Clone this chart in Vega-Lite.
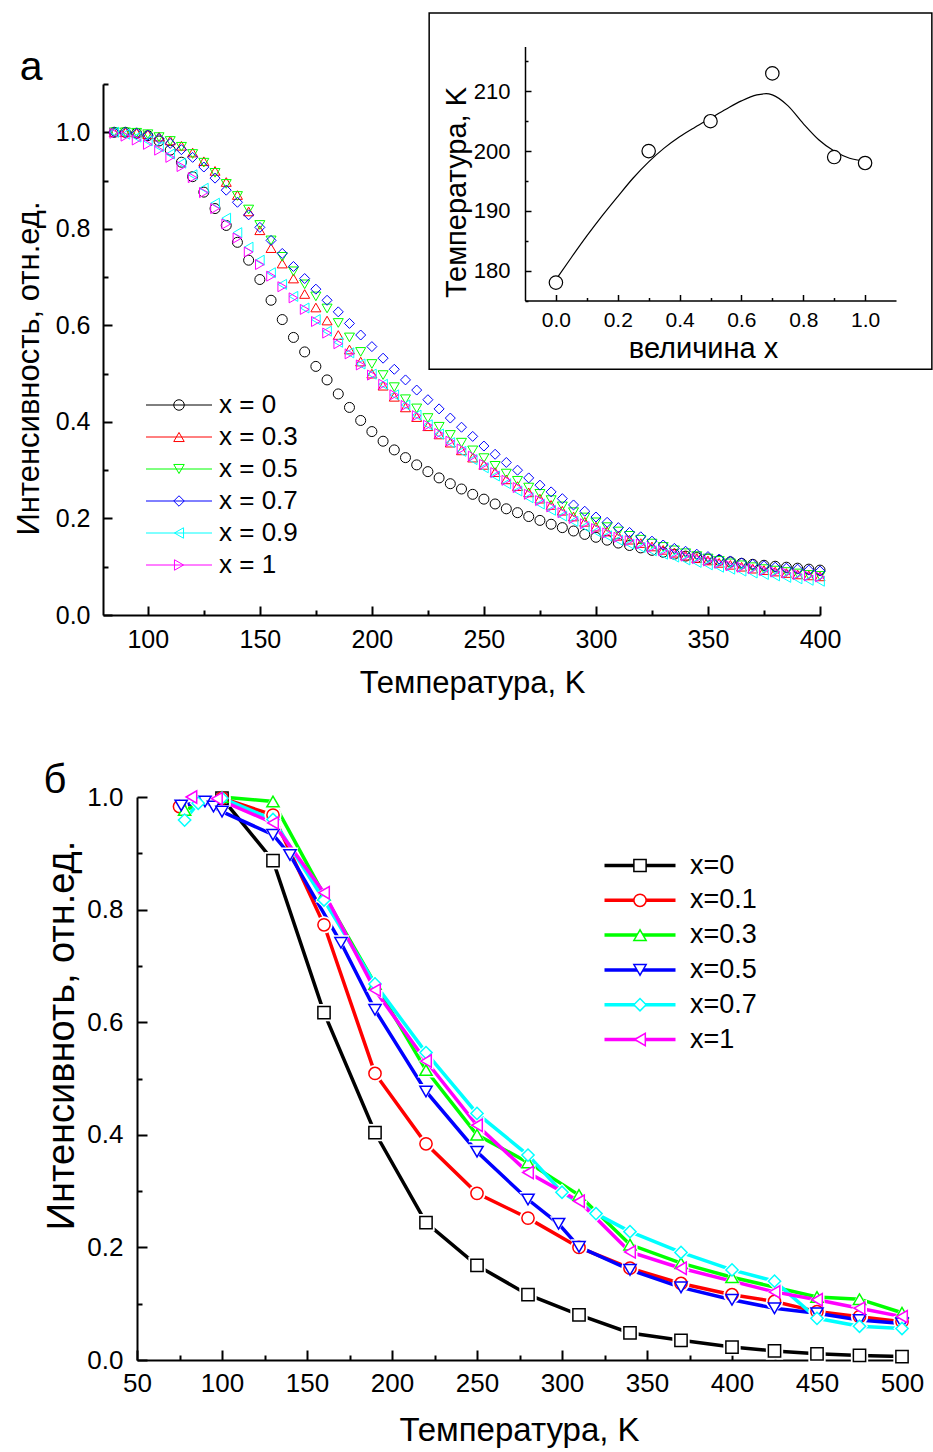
{
"$schema": "https://vega.github.io/schema/vega-lite/v6.json",
"width": 933, "height": 1452, "padding": 0, "autosize": {"type": "none"},
"background": "white",
"config": {
  "view": {"stroke": null},
  "font": "Liberation Sans",
  "axis": {"domainColor": "#000", "tickColor": "#000", "labelColor": "#000", "titleColor": "#000", "labelFont": "Liberation Sans", "titleFont": "Liberation Sans", "titleFontWeight": "normal", "grid": false, "labelFlush": false, "labelOverlap": false, "domainWidth": 2, "tickWidth": 2},
  "legend": {"labelFont": "Liberation Sans", "labelColor": "#000", "padding": 0, "symbolOffset": 0}
},
"datasets": {
"a": [
{"T":85,"x0":1.000,"x03":1.000,"x05":1.000,"x07":1.000,"x09":1.000,"x1":0.998},
{"T":90,"x0":1.000,"x03":1.000,"x05":1.000,"x07":1.000,"x09":0.996,"x1":0.992},
{"T":95,"x0":0.998,"x03":0.999,"x05":0.999,"x07":0.998,"x09":0.990,"x1":0.984},
{"T":100,"x0":0.993,"x03":0.996,"x05":0.996,"x07":0.994,"x09":0.982,"x1":0.975},
{"T":105,"x0":0.982,"x03":0.991,"x05":0.990,"x07":0.987,"x09":0.970,"x1":0.963},
{"T":110,"x0":0.963,"x03":0.983,"x05":0.982,"x07":0.977,"x09":0.955,"x1":0.948},
{"T":115,"x0":0.938,"x03":0.972,"x05":0.970,"x07":0.964,"x09":0.936,"x1":0.929},
{"T":120,"x0":0.908,"x03":0.958,"x05":0.955,"x07":0.948,"x09":0.912,"x1":0.906},
{"T":125,"x0":0.876,"x03":0.940,"x05":0.937,"x07":0.928,"x09":0.884,"x1":0.875},
{"T":130,"x0":0.842,"x03":0.920,"x05":0.916,"x07":0.905,"x09":0.853,"x1":0.842},
{"T":135,"x0":0.807,"x03":0.897,"x05":0.893,"x07":0.880,"x09":0.822,"x1":0.810},
{"T":140,"x0":0.772,"x03":0.870,"x05":0.868,"x07":0.855,"x09":0.792,"x1":0.781},
{"T":145,"x0":0.735,"x03":0.836,"x05":0.840,"x07":0.829,"x09":0.762,"x1":0.752},
{"T":150,"x0":0.695,"x03":0.797,"x05":0.808,"x07":0.803,"x09":0.735,"x1":0.726},
{"T":155,"x0":0.652,"x03":0.760,"x05":0.776,"x07":0.776,"x09":0.709,"x1":0.702},
{"T":160,"x0":0.612,"x03":0.728,"x05":0.742,"x07":0.749,"x09":0.685,"x1":0.680},
{"T":165,"x0":0.575,"x03":0.697,"x05":0.712,"x07":0.722,"x09":0.660,"x1":0.657},
{"T":170,"x0":0.545,"x03":0.665,"x05":0.685,"x07":0.697,"x09":0.636,"x1":0.633},
{"T":175,"x0":0.515,"x03":0.637,"x05":0.660,"x07":0.675,"x09":0.612,"x1":0.608},
{"T":180,"x0":0.487,"x03":0.610,"x05":0.635,"x07":0.652,"x09":0.588,"x1":0.584},
{"T":185,"x0":0.458,"x03":0.580,"x05":0.605,"x07":0.628,"x09":0.565,"x1":0.562},
{"T":190,"x0":0.430,"x03":0.550,"x05":0.575,"x07":0.604,"x09":0.543,"x1":0.541},
{"T":195,"x0":0.403,"x03":0.525,"x05":0.545,"x07":0.580,"x09":0.520,"x1":0.518},
{"T":200,"x0":0.380,"x03":0.500,"x05":0.520,"x07":0.556,"x09":0.499,"x1":0.497},
{"T":205,"x0":0.360,"x03":0.475,"x05":0.497,"x07":0.532,"x09":0.478,"x1":0.478},
{"T":210,"x0":0.342,"x03":0.452,"x05":0.472,"x07":0.509,"x09":0.456,"x1":0.456},
{"T":215,"x0":0.326,"x03":0.430,"x05":0.447,"x07":0.487,"x09":0.435,"x1":0.434},
{"T":220,"x0":0.311,"x03":0.410,"x05":0.428,"x07":0.466,"x09":0.414,"x1":0.413},
{"T":225,"x0":0.297,"x03":0.391,"x05":0.408,"x07":0.446,"x09":0.394,"x1":0.393},
{"T":230,"x0":0.284,"x03":0.374,"x05":0.390,"x07":0.427,"x09":0.375,"x1":0.376},
{"T":235,"x0":0.272,"x03":0.357,"x05":0.373,"x07":0.408,"x09":0.357,"x1":0.360},
{"T":240,"x0":0.261,"x03":0.341,"x05":0.357,"x07":0.389,"x09":0.339,"x1":0.344},
{"T":245,"x0":0.250,"x03":0.326,"x05":0.341,"x07":0.370,"x09":0.322,"x1":0.329},
{"T":250,"x0":0.240,"x03":0.311,"x05":0.325,"x07":0.350,"x09":0.305,"x1":0.312},
{"T":255,"x0":0.230,"x03":0.296,"x05":0.309,"x07":0.333,"x09":0.288,"x1":0.295},
{"T":260,"x0":0.220,"x03":0.281,"x05":0.293,"x07":0.316,"x09":0.272,"x1":0.279},
{"T":265,"x0":0.212,"x03":0.267,"x05":0.278,"x07":0.300,"x09":0.257,"x1":0.264},
{"T":270,"x0":0.204,"x03":0.254,"x05":0.264,"x07":0.284,"x09":0.243,"x1":0.250},
{"T":275,"x0":0.196,"x03":0.241,"x05":0.251,"x07":0.269,"x09":0.230,"x1":0.237},
{"T":280,"x0":0.188,"x03":0.228,"x05":0.238,"x07":0.255,"x09":0.217,"x1":0.224},
{"T":285,"x0":0.181,"x03":0.216,"x05":0.225,"x07":0.241,"x09":0.205,"x1":0.212},
{"T":290,"x0":0.174,"x03":0.204,"x05":0.213,"x07":0.228,"x09":0.194,"x1":0.200},
{"T":295,"x0":0.167,"x03":0.193,"x05":0.202,"x07":0.215,"x09":0.183,"x1":0.189},
{"T":300,"x0":0.161,"x03":0.183,"x05":0.192,"x07":0.203,"x09":0.173,"x1":0.179},
{"T":305,"x0":0.155,"x03":0.173,"x05":0.182,"x07":0.192,"x09":0.164,"x1":0.170},
{"T":310,"x0":0.149,"x03":0.164,"x05":0.173,"x07":0.181,"x09":0.155,"x1":0.161},
{"T":315,"x0":0.144,"x03":0.156,"x05":0.164,"x07":0.171,"x09":0.147,"x1":0.154},
{"T":320,"x0":0.139,"x03":0.149,"x05":0.156,"x07":0.162,"x09":0.140,"x1":0.147},
{"T":325,"x0":0.134,"x03":0.142,"x05":0.148,"x07":0.153,"x09":0.133,"x1":0.140},
{"T":330,"x0":0.130,"x03":0.135,"x05":0.141,"x07":0.145,"x09":0.126,"x1":0.133},
{"T":335,"x0":0.126,"x03":0.129,"x05":0.134,"x07":0.138,"x09":0.120,"x1":0.127},
{"T":340,"x0":0.122,"x03":0.123,"x05":0.128,"x07":0.132,"x09":0.114,"x1":0.122},
{"T":345,"x0":0.119,"x03":0.118,"x05":0.122,"x07":0.126,"x09":0.109,"x1":0.117},
{"T":350,"x0":0.116,"x03":0.113,"x05":0.117,"x07":0.121,"x09":0.104,"x1":0.112},
{"T":355,"x0":0.113,"x03":0.108,"x05":0.112,"x07":0.116,"x09":0.099,"x1":0.107},
{"T":360,"x0":0.110,"x03":0.104,"x05":0.107,"x07":0.112,"x09":0.095,"x1":0.102},
{"T":365,"x0":0.107,"x03":0.100,"x05":0.103,"x07":0.108,"x09":0.091,"x1":0.099},
{"T":370,"x0":0.105,"x03":0.096,"x05":0.099,"x07":0.105,"x09":0.087,"x1":0.096},
{"T":375,"x0":0.103,"x03":0.093,"x05":0.095,"x07":0.102,"x09":0.084,"x1":0.092},
{"T":380,"x0":0.101,"x03":0.090,"x05":0.092,"x07":0.099,"x09":0.081,"x1":0.089},
{"T":385,"x0":0.099,"x03":0.087,"x05":0.089,"x07":0.097,"x09":0.078,"x1":0.087},
{"T":390,"x0":0.097,"x03":0.084,"x05":0.086,"x07":0.095,"x09":0.075,"x1":0.084},
{"T":395,"x0":0.095,"x03":0.082,"x05":0.083,"x07":0.093,"x09":0.072,"x1":0.081},
{"T":400,"x0":0.093,"x03":0.080,"x05":0.081,"x07":0.091,"x09":0.070,"x1":0.079}
],
"b": [
{"s":"x=0","T":100,"v":0.998},{"s":"x=0","T":130,"v":0.887},{"s":"x=0","T":160,"v":0.617},{"s":"x=0","T":190,"v":0.404},{"s":"x=0","T":220,"v":0.244},{"s":"x=0","T":250,"v":0.168},{"s":"x=0","T":280,"v":0.116},{"s":"x=0","T":310,"v":0.080},{"s":"x=0","T":340,"v":0.048},{"s":"x=0","T":370,"v":0.035},{"s":"x=0","T":400,"v":0.023},{"s":"x=0","T":425,"v":0.016},{"s":"x=0","T":450,"v":0.011},{"s":"x=0","T":475,"v":0.008},{"s":"x=0","T":500,"v":0.006},
{"s":"x=0.1","T":75,"v":0.983},{"s":"x=0.1","T":100,"v":0.998},{"s":"x=0.1","T":130,"v":0.968},{"s":"x=0.1","T":160,"v":0.773},{"s":"x=0.1","T":190,"v":0.509},{"s":"x=0.1","T":220,"v":0.384},{"s":"x=0.1","T":250,"v":0.296},{"s":"x=0.1","T":280,"v":0.252},{"s":"x=0.1","T":310,"v":0.200},{"s":"x=0.1","T":340,"v":0.163},{"s":"x=0.1","T":370,"v":0.136},{"s":"x=0.1","T":400,"v":0.116},{"s":"x=0.1","T":425,"v":0.104},{"s":"x=0.1","T":450,"v":0.086},{"s":"x=0.1","T":475,"v":0.077},{"s":"x=0.1","T":500,"v":0.068},
{"s":"x=0.3","T":78,"v":0.977},{"s":"x=0.3","T":100,"v":1.0},{"s":"x=0.3","T":130,"v":0.992},{"s":"x=0.3","T":160,"v":0.826},{"s":"x=0.3","T":190,"v":0.668},{"s":"x=0.3","T":220,"v":0.515},{"s":"x=0.3","T":250,"v":0.400},{"s":"x=0.3","T":280,"v":0.351},{"s":"x=0.3","T":310,"v":0.293},{"s":"x=0.3","T":340,"v":0.205},{"s":"x=0.3","T":370,"v":0.172},{"s":"x=0.3","T":400,"v":0.147},{"s":"x=0.3","T":450,"v":0.112},{"s":"x=0.3","T":475,"v":0.108},{"s":"x=0.3","T":500,"v":0.084},
{"s":"x=0.5","T":76,"v":0.985},{"s":"x=0.5","T":90,"v":0.992},{"s":"x=0.5","T":95,"v":0.983},{"s":"x=0.5","T":100,"v":0.974},{"s":"x=0.5","T":130,"v":0.933},{"s":"x=0.5","T":140,"v":0.897},{"s":"x=0.5","T":170,"v":0.741},{"s":"x=0.5","T":190,"v":0.622},{"s":"x=0.5","T":220,"v":0.477},{"s":"x=0.5","T":250,"v":0.370},{"s":"x=0.5","T":280,"v":0.285},{"s":"x=0.5","T":298,"v":0.242},{"s":"x=0.5","T":310,"v":0.201},{"s":"x=0.5","T":340,"v":0.160},{"s":"x=0.5","T":370,"v":0.129},{"s":"x=0.5","T":400,"v":0.107},{"s":"x=0.5","T":425,"v":0.092},{"s":"x=0.5","T":450,"v":0.083},{"s":"x=0.5","T":475,"v":0.071},{"s":"x=0.5","T":500,"v":0.065},
{"s":"x=0.7","T":78,"v":0.959},{"s":"x=0.7","T":86,"v":0.989},{"s":"x=0.7","T":100,"v":0.998},{"s":"x=0.7","T":130,"v":0.960},{"s":"x=0.7","T":160,"v":0.817},{"s":"x=0.7","T":190,"v":0.668},{"s":"x=0.7","T":220,"v":0.546},{"s":"x=0.7","T":250,"v":0.438},{"s":"x=0.7","T":280,"v":0.364},{"s":"x=0.7","T":300,"v":0.298},{"s":"x=0.7","T":320,"v":0.260},{"s":"x=0.7","T":340,"v":0.228},{"s":"x=0.7","T":370,"v":0.191},{"s":"x=0.7","T":400,"v":0.160},{"s":"x=0.7","T":425,"v":0.140},{"s":"x=0.7","T":450,"v":0.074},{"s":"x=0.7","T":475,"v":0.060},{"s":"x=0.7","T":500,"v":0.056},
{"s":"x=1","T":82,"v":1.0},{"s":"x=1","T":97,"v":0.997},{"s":"x=1","T":130,"v":0.954},{"s":"x=1","T":160,"v":0.830},{"s":"x=1","T":190,"v":0.657},{"s":"x=1","T":220,"v":0.531},{"s":"x=1","T":250,"v":0.417},{"s":"x=1","T":280,"v":0.333},{"s":"x=1","T":310,"v":0.282},{"s":"x=1","T":340,"v":0.192},{"s":"x=1","T":370,"v":0.163},{"s":"x=1","T":425,"v":0.121},{"s":"x=1","T":450,"v":0.107},{"s":"x=1","T":475,"v":0.092},{"s":"x=1","T":500,"v":0.077}
],
"ins": [{"x":0,"y":178},{"x":0.3,"y":200},{"x":0.5,"y":205},{"x":0.7,"y":213},{"x":0.9,"y":199},{"x":1.0,"y":198}],
"insc": [{"x":0,"y":178.5},{"x":0.05,"y":182.2},{"x":0.1,"y":185.8},{"x":0.15,"y":189.2},{"x":0.2,"y":192.4},{"x":0.25,"y":195.5},{"x":0.3,"y":198.2},{"x":0.35,"y":200.5},{"x":0.4,"y":202.4},{"x":0.45,"y":204.0},{"x":0.5,"y":205.5},{"x":0.55,"y":207.0},{"x":0.6,"y":208.4},{"x":0.65,"y":209.4},{"x":0.68,"y":209.6},{"x":0.7,"y":209.4},{"x":0.75,"y":207.6},{"x":0.8,"y":204.6},{"x":0.85,"y":201.9},{"x":0.9,"y":200.0},{"x":0.95,"y":198.8},{"x":1.0,"y":198.3}]
},
"layer": [
{
 "encoding": {
  "x": {"field": "T", "type": "quantitative", "scale": {"domain": [80, 400], "range": [103, 820], "nice": false, "zero": false},
        "axis": {"orient": "bottom", "offset": -837, "values": [100,150,200,250,300,350,400], "tickSize": -9, "labelPadding": 21, "labelFontSize": 25, "title": "Температура, K", "titleFontSize": 31, "titleX": 472, "titleY": 68, "titleAlign": "center", "titleBaseline": "middle"}},
  "y": {"field": "v", "type": "quantitative", "scale": {"domain": [0, 1.1], "range": [615, 84], "nice": false, "zero": false},
        "axis": {"orient": "left", "offset": -103, "values": [0,0.2,0.4,0.6,0.8,1.0], "format": ".1f", "tickSize": -9, "labelPadding": 22, "labelFontSize": 25, "title": "Интенсивность, отн.ед.", "titleFontSize": 31, "titleX": -74, "titleY": 368, "titleAlign": "center", "titleBaseline": "middle"}}
 },
 "layer": [
  {"data": {"values": []}, "mark": {"type": "line", "strokeWidth": 1},
   "encoding": {"color": {"field": "s", "type": "nominal",
     "scale": {"domain": ["x0","x03","x05","x07","x09","x1"], "range": ["#000000","#ff0000","#00ff00","#0000ff","#00ffff","#ff00ff"]},
     "legend": {"orient": "none", "legendX": 166, "legendY": 392, "title": null, "labelFontSize": 26, "labelOffset": 27, "rowPadding": 6, "symbolType": "M-6.6,0H6.6", "symbolSize": 100, "symbolStrokeWidth": 1,
       "labelExpr": "datum.label=='x0'?'x = 0':datum.label=='x03'?'x = 0.3':datum.label=='x05'?'x = 0.5':datum.label=='x07'?'x = 0.7':datum.label=='x09'?'x = 0.9':'x = 1'"}}}},
  {"data": {"name": "a"}, "transform": [{"fold": ["x0","x03","x05","x07","x09","x1"], "as": ["s","v"]}],
   "mark": {"type": "point", "filled": false, "strokeWidth": 1, "size": 100, "opacity": 1},
   "encoding": {
     "color": {"field": "s", "type": "nominal",
       "scale": {"domain": ["x0","x03","x05","x07","x09","x1"], "range": ["#000000","#ff0000","#00ff00","#0000ff","#00ffff","#ff00ff"]},
       "legend": {"orient": "none", "legendX": 166, "legendY": 392, "title": null, "labelFontSize": 26, "labelOffset": 27, "rowPadding": 6, "labelOpacity": 0, "symbolStrokeWidth": 1, "symbolFillColor": "white", "symbolSize": 110,
         "labelExpr": "datum.label=='x0'?'x = 0':datum.label=='x03'?'x = 0.3':datum.label=='x05'?'x = 0.5':datum.label=='x07'?'x = 0.7':datum.label=='x09'?'x = 0.9':'x = 1'",
         "encode": {"symbols": {"update": {"fill": {"value": "white"}}}}}},
     "shape": {"field": "s", "type": "nominal",
       "scale": {"domain": ["x0","x03","x05","x07","x09","x1"], "range": ["circle","triangle-up","triangle-down","diamond","triangle-left","triangle-right"]},
       "legend": {"orient": "none", "legendX": 166, "legendY": 392, "title": null, "labelFontSize": 26, "labelOffset": 27, "rowPadding": 6, "labelOpacity": 0, "symbolStrokeWidth": 1, "symbolFillColor": "white", "symbolSize": 110,
         "labelExpr": "datum.label=='x0'?'x = 0':datum.label=='x03'?'x = 0.3':datum.label=='x05'?'x = 0.5':datum.label=='x07'?'x = 0.7':datum.label=='x09'?'x = 0.9':'x = 1'",
         "encode": {"symbols": {"update": {"fill": {"value": "white"}}}}}}
   }},
  {"data": {"values": [{"T": 47.9, "v": 1.108, "t": "а"}]},
   "mark": {"type": "text", "fontSize": 41, "baseline": "alphabetic", "align": "center", "color": "#000", "font": "Liberation Sans"},
   "encoding": {"text": {"field": "t", "type": "nominal"}}}
 ],
 "resolve": {"scale": {"color": "independent", "shape": "independent"}}
},
{
 "data": {"values": []},
 "mark": {"type": "point"},
 "encoding": {
  "x": {"field": "T", "type": "quantitative", "scale": {"domain": [80, 400], "range": [103, 820], "nice": false, "zero": false},
        "axis": {"orient": "bottom", "offset": -837, "values": [125,175,225,275,325,375], "tickSize": -5, "labels": false, "domain": false, "title": null}},
  "y": {"field": "v", "type": "quantitative", "scale": {"domain": [0, 1.1], "range": [615, 84], "nice": false, "zero": false},
        "axis": {"orient": "left", "offset": -103, "values": [0.1,0.3,0.5,0.7,0.9,1.1], "tickSize": -5, "labels": false, "domain": false, "title": null}}
 }
},
{
 "encoding": {
  "x": {"field": "x", "type": "quantitative", "scale": {"domain": [-0.1, 1.1], "range": [525, 896], "nice": false, "zero": false},
        "axis": {"orient": "bottom", "offset": -1151.5, "values": [0,0.2,0.4,0.6,0.8,1.0], "format": ".1f", "tickSize": -6, "labelPadding": 15, "labelFontSize": 21, "domainWidth": 1.5, "tickWidth": 1.5, "title": "величина x", "titleFontSize": 29, "titleX": 703, "titleY": 47.5, "titleAlign": "center", "titleBaseline": "middle"}},
  "y": {"field": "y", "type": "quantitative", "scale": {"domain": [175, 217.5], "range": [300.5, 46.5], "nice": false, "zero": false},
        "axis": {"orient": "left", "offset": -525, "values": [180,190,200,210], "tickSize": -6, "labelPadding": 21, "labelFontSize": 22, "domainWidth": 1.5, "tickWidth": 1.5, "title": "Температура, K", "titleFontSize": 29, "titleX": -69, "titleY": 192, "titleAlign": "center", "titleBaseline": "middle"}}
 },
 "layer": [
  {"data": {"values": [{"x": -0.41, "y": 163.5, "x2": 1.216, "y2": 223.1}]},
   "mark": {"type": "rect", "fill": "white", "fillOpacity": 0, "stroke": "#000", "strokeWidth": 1.5},
   "encoding": {"x2": {"field": "x2"}, "y2": {"field": "y2"}}},
  {"data": {"name": "insc"}, "mark": {"type": "line", "color": "#000", "strokeWidth": 1.2, "interpolate": "monotone"}},
  {"data": {"name": "ins"}, "mark": {"type": "point", "shape": "circle", "filled": false, "fill": "white", "stroke": "#000", "strokeWidth": 1.2, "size": 180, "opacity": 1}}
 ]
},
{
 "data": {"values": []},
 "mark": {"type": "point"},
 "encoding": {
  "x": {"field": "x", "type": "quantitative", "scale": {"domain": [-0.1, 1.1], "range": [525, 896], "nice": false, "zero": false},
        "axis": {"orient": "bottom", "offset": -1151.5, "values": [0.1,0.3,0.5,0.7,0.9], "tickSize": -3, "tickWidth": 1.5, "labels": false, "domain": false, "title": null}},
  "y": {"field": "y", "type": "quantitative", "scale": {"domain": [175, 217.5], "range": [300.5, 46.5], "nice": false, "zero": false},
        "axis": {"orient": "left", "offset": -525, "values": [175,185,195,205,215], "tickSize": -3, "tickWidth": 1.5, "labels": false, "domain": false, "title": null}}
 }
},
{
 "encoding": {
  "x": {"field": "T", "type": "quantitative", "scale": {"domain": [50, 500], "range": [137, 902], "nice": false, "zero": false},
        "axis": {"orient": "bottom", "offset": -92, "values": [50,100,150,200,250,300,350,400,450,500], "tickSize": -10, "labelPadding": 20, "labelFontSize": 26, "title": "Температура, K", "titleFontSize": 33, "titleX": 519, "titleY": 70, "titleAlign": "center", "titleBaseline": "middle"}},
  "y": {"field": "v", "type": "quantitative", "scale": {"domain": [0, 1], "range": [1360, 797], "nice": false, "zero": false},
        "axis": {"orient": "left", "offset": -137, "values": [0,0.2,0.4,0.6,0.8,1.0], "format": ".1f", "tickSize": -10, "labelPadding": 24, "labelFontSize": 26, "title": "Интенсивноть, отн.ед.", "titleFontSize": 38, "titleX": -75, "titleY": 1035, "titleAlign": "center", "titleBaseline": "middle"}}
 },
 "layer": [
  {"data": {"name": "b"}, "mark": {"type": "line", "strokeWidth": 3.5},
   "encoding": {"color": {"field": "s", "type": "nominal",
     "scale": {"domain": ["x=0","x=0.1","x=0.3","x=0.5","x=0.7","x=1"], "range": ["#000000","#ff0000","#00ff00","#0000ff","#00ffff","#ff00ff"]},
     "legend": {"orient": "none", "legendX": 626.5, "legendY": 852, "title": null, "labelFontSize": 27, "labelOffset": 36.5, "rowPadding": 6.8, "symbolType": "M-7.1,0H7.1", "symbolSize": 100, "symbolStrokeWidth": 3.5}}}},
  {"data": {"name": "b"}, "mark": {"type": "point", "filled": true, "color": "white", "size": 300, "opacity": 1},
   "encoding": {"shape": {"field": "s", "type": "nominal",
     "scale": {"domain": ["x=0","x=0.1","x=0.3","x=0.5","x=0.7","x=1"], "range": ["square","circle","triangle-up","triangle-down","diamond","triangle-left"]}, "legend": null}}},
  {"data": {"name": "b"}, "mark": {"type": "point", "filled": false, "fill": "white", "strokeWidth": 1.5, "size": 150, "opacity": 1},
   "encoding": {
     "color": {"field": "s", "type": "nominal",
       "scale": {"domain": ["x=0","x=0.1","x=0.3","x=0.5","x=0.7","x=1"], "range": ["#000000","#ff0000","#00ff00","#0000ff","#00ffff","#ff00ff"]},
       "legend": {"orient": "none", "legendX": 626.5, "legendY": 852, "title": null, "labelFontSize": 27, "labelOffset": 36.5, "rowPadding": 6.8, "labelOpacity": 0, "symbolStrokeWidth": 1.5, "symbolFillColor": "white", "symbolSize": 150,
         "encode": {"symbols": {"update": {"fill": {"value": "white"}}}}}},
     "shape": {"field": "s", "type": "nominal",
       "scale": {"domain": ["x=0","x=0.1","x=0.3","x=0.5","x=0.7","x=1"], "range": ["square","circle","triangle-up","triangle-down","diamond","triangle-left"]},
       "legend": {"orient": "none", "legendX": 626.5, "legendY": 852, "title": null, "labelFontSize": 27, "labelOffset": 36.5, "rowPadding": 6.8, "labelOpacity": 0, "symbolStrokeWidth": 1.5, "symbolFillColor": "white", "symbolSize": 150,
         "encode": {"symbols": {"update": {"fill": {"value": "white"}}}}}}
   }},
  {"data": {"values": [{"T": 1.76, "v": 1.007, "t": "б"}]},
   "mark": {"type": "text", "fontSize": 40, "baseline": "alphabetic", "align": "center", "color": "#000", "font": "Liberation Sans"},
   "encoding": {"text": {"field": "t", "type": "nominal"}}}
 ],
 "resolve": {"scale": {"color": "independent", "shape": "independent"}}
},
{
 "data": {"values": []},
 "mark": {"type": "point"},
 "encoding": {
  "x": {"field": "T", "type": "quantitative", "scale": {"domain": [50, 500], "range": [137, 902], "nice": false, "zero": false},
        "axis": {"orient": "bottom", "offset": -92, "values": [75,125,175,225,275,325,375,425,475], "tickSize": -5, "labels": false, "domain": false, "title": null}},
  "y": {"field": "v", "type": "quantitative", "scale": {"domain": [0, 1], "range": [1360, 797], "nice": false, "zero": false},
        "axis": {"orient": "left", "offset": -137, "values": [0.1,0.3,0.5,0.7,0.9], "tickSize": -5, "labels": false, "domain": false, "title": null}}
 }
}
],
"resolve": {"scale": {"x": "independent", "y": "independent", "color": "independent", "shape": "independent"}, "axis": {"x": "independent", "y": "independent"}, "legend": {"color": "independent", "shape": "independent"}}
}
